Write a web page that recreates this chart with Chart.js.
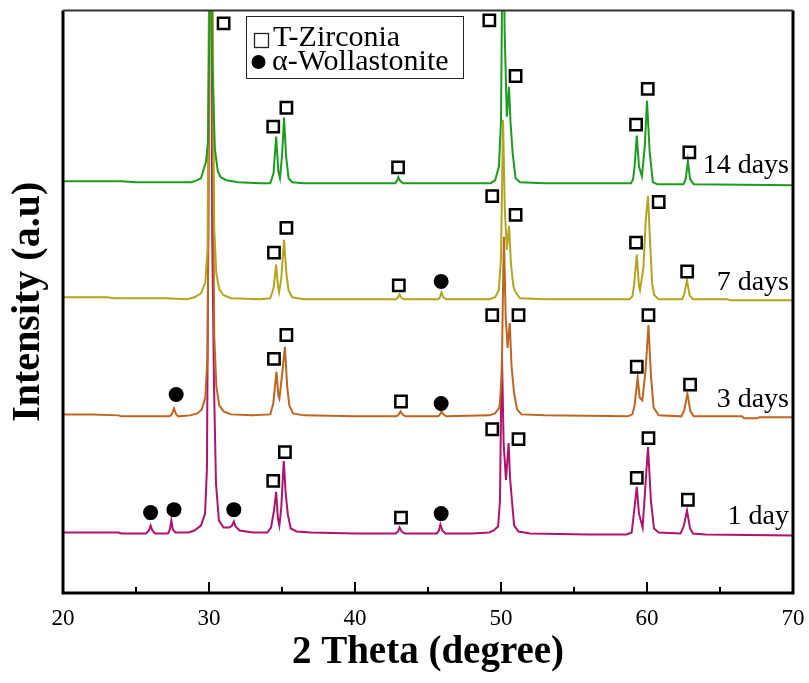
<!DOCTYPE html>
<html>
<head>
<meta charset="utf-8">
<script src="https://cdn.jsdelivr.net/npm/chart.js@4.4.1/dist/chart.umd.min.js"></script>
<style>
html, body { margin: 0; padding: 0; background: #fff; }
#wrap { width: 809px; height: 683px; }
</style>
</head>
<body>
<div id="wrap"><canvas id="xrd-chart"></canvas></div>
<script>
// 2 theta vs relative intensity; each trace is lifted by its offset
var seriesLabels = ['1 day', '3 days', '7 days', '14 days'];
var seriesColors = ['#b0136b', '#c0651f', '#b3a51e', '#1c9c1c'];
var offsets = [61, 179, 297, 415];

var day1 = [[20, 0], [21.5, 0], [23.8, 0], [24, -1], [25.7, -1], [25.88, 2], [26.0, 7], [26.12, 2], [26.3, -1],
    [27.2, -1], [27.32, 3], [27.42, 12], [27.52, 3], [27.7, 0], [28.6, 0], [29.0, 2], [29.45, 7], [29.73, 19],
    [29.86, 65], [29.95, 300], [30.08, 900], [30.22, 300], [30.34, 150], [30.48, 49], [30.68, 12], [31.0, 5],
    [31.4, 5], [31.58, 7], [31.7, 11], [31.82, 6], [32.1, 2], [33.0, 0], [34.0, 0], [34.25, 5], [34.45, 22],
    [34.6, 41], [34.72, 14], [34.82, 7], [34.95, 25], [35.12, 72], [35.25, 40], [35.4, 18], [35.6, 4], [36.0, 1],
    [37.0, 0], [40.0, -1], [42.8, -1], [42.95, 1], [43.05, 5], [43.2, 1], [43.4, -1], [45.6, -1], [45.75, 2],
    [45.85, 8], [45.98, 2], [46.2, -1], [48.0, -1], [49.2, 0], [49.5, 2], [49.8, 6], [49.93, 32], [50.0, 120],
    [50.07, 176], [50.18, 90], [50.34, 53], [50.52, 90], [50.62, 55], [50.75, 32], [50.9, 7], [51.2, 1],
    [52.0, -1], [56.0, -2], [58.6, -2], [58.95, 0], [59.1, 19], [59.3, 46], [59.45, 19], [59.7, 5], [59.9, 49],
    [60.07, 86], [60.27, 32], [60.48, 4], [60.8, 0], [62.3, -1], [62.53, 7], [62.74, 22], [62.95, 4], [63.15, -1],
    [64.0, -2], [70, -3]];

var day3 = [[20, 1], [22, 1], [23.8, 0], [24, -1], [27.3, -1], [27.45, 1], [27.6, 7], [27.75, 1], [27.9, -1],
    [28.7, 0], [29.2, 2], [29.5, 6], [29.75, 18], [29.9, 60], [30.0, 300], [30.12, 900], [30.25, 300], [30.36, 80],
    [30.5, 30], [30.7, 10], [31.0, 4], [31.5, 1], [33.0, 0], [34.2, 1], [34.4, 12], [34.62, 44], [34.75, 20],
    [34.82, 17], [35.0, 40], [35.2, 69], [35.35, 30], [35.5, 10], [35.75, 2], [36.5, 0], [40.0, -1], [42.85, -1],
    [43.0, 1], [43.12, 4], [43.25, 1], [43.45, -1], [45.7, -1], [45.83, 1], [45.92, 4], [46.05, 1], [46.25, -1],
    [49.2, 0], [49.6, 2], [49.9, 8], [50.05, 40], [50.13, 120], [50.2, 180], [50.32, 100], [50.45, 68],
    [50.6, 93], [50.72, 50], [50.9, 22], [51.1, 6], [51.4, 1], [53.0, 0], [58.7, -1], [59.0, 1], [59.15, 10],
    [59.36, 38], [59.5, 18], [59.68, 15], [59.9, 45], [60.1, 91], [60.27, 40], [60.45, 8], [60.8, 0], [62.35, -1],
    [62.55, 5], [62.77, 22], [62.97, 4], [63.2, -1], [66.5, -1], [66.65, -3], [67.5, -3], [67.7, -2], [70, -2]];

var day7 = [[20, 1], [23, 1], [23.5, 0], [27, 0], [28.5, -1], [29.0, 1], [29.45, 5], [29.75, 16], [29.9, 50],
    [30.0, 300], [30.12, 800], [30.25, 300], [30.36, 70], [30.5, 25], [30.7, 9], [31.0, 3], [31.5, 0], [33.5, -1],
    [34.2, 0], [34.42, 10], [34.6, 34], [34.72, 12], [34.8, 6], [34.95, 20], [35.14, 59], [35.3, 25], [35.45, 8],
    [35.7, 1], [36.5, -1], [42.8, -1], [42.95, 1], [43.05, 4], [43.2, 0], [43.4, -1], [45.7, -1], [45.82, 1],
    [45.92, 6], [46.05, 1], [46.25, -1], [49.2, -1], [49.6, 1], [49.85, 8], [50.0, 40], [50.08, 120], [50.14, 180],
    [50.26, 90], [50.4, 49], [50.55, 73], [50.68, 35], [50.85, 12], [51.0, 6], [51.3, 0], [53.0, -1], [58.8, -1],
    [59.0, 2], [59.12, 14], [59.3, 44], [59.45, 12], [59.52, 8], [59.75, 30], [59.92, 80], [60.07, 103],
    [60.2, 60], [60.35, 15], [60.5, 3], [60.8, -1], [62.4, -1], [62.55, 4], [62.74, 18], [62.92, 3], [63.15, -1],
    [65.5, -1], [65.7, -2], [70, -2]];

var day14 = [[20, 0], [24, 0], [25, -1], [28.8, -1], [29.2, 1], [29.45, 3], [29.8, 20], [29.93, 40], [30.0, 123],
    [30.1, 280], [30.22, 123], [30.4, 33], [30.6, 10], [30.8, 4], [31.2, 1], [32.0, -1], [33.5, -2], [34.2, -2],
    [34.42, 8], [34.6, 45], [34.75, 10], [34.86, 3], [35.0, 25], [35.14, 64], [35.28, 25], [35.45, 3], [35.7, -1],
    [36.5, -2], [42.75, -2], [42.9, 1], [42.97, 4], [43.1, 0], [43.3, -2], [49.3, -2], [49.6, 1], [49.86, 15],
    [50.0, 61], [50.07, 180], [50.14, 300], [50.25, 150], [50.4, 65], [50.55, 95], [50.65, 60], [50.8, 28],
    [51.0, 3], [51.3, -1], [53.0, -2], [58.9, -2], [59.05, 2], [59.15, 15], [59.3, 46], [59.45, 15], [59.65, 5],
    [59.85, 35], [60.0, 81], [60.18, 30], [60.4, -1], [60.7, -3], [62.5, -3], [62.65, 2], [62.8, 20], [62.95, 2],
    [63.2, -3], [70, -4]];

var traces = [day1, day3, day7, day14];

// peak markers, same vertical units as the lifted traces
var zirconiaMarks = [[31.0, 574], [34.4, 470], [35.3, 489], [42.95, 429], [49.2, 577], [51.0, 521], [59.25, 472],
    [60.05, 508], [62.9, 444],
    [34.45, 343], [35.3, 368], [43.0, 310], [49.4, 400], [51.0, 381], [59.25, 353], [60.8, 394], [62.75, 324],
    [34.45, 236], [35.3, 260], [43.15, 193], [49.4, 280], [51.2, 280], [59.3, 228], [60.1, 280], [62.95, 210],
    [34.4, 113], [35.2, 142], [43.15, 76], [49.4, 165], [51.2, 155], [59.3, 116], [60.1, 156], [62.8, 94]];
var wollastoniteMarks = [[45.9, 314], [27.75, 200], [45.9, 191], [26.0, 81], [27.6, 84], [31.7, 84], [45.9, 80]];
var legendLabels = ['T-Zirconia', '\u03b1-Wollastonite'];

var xTicks = [20, 30, 40, 50, 60, 70];

function toPoints(arr, lift) {
    return arr.map(function(p) { return { x: p[0], y: p[1] + (lift || 0) }; });
}

var datasets = [];
datasets.push({
    type: 'scatter', label: legendLabels[0], data: toPoints(zirconiaMarks), order: 0,
    pointStyle: 'rect', pointRadius: 8, pointBorderWidth: 2.5, pointBorderColor: '#000',
    pointBackgroundColor: 'rgba(0,0,0,0)', clip: 0
});
datasets.push({
    type: 'scatter', label: legendLabels[1], data: toPoints(wollastoniteMarks), order: 0,
    pointStyle: 'circle', pointRadius: 7.5, pointBorderWidth: 0, pointBackgroundColor: '#000', clip: 0
});
for (var i = traces.length - 1; i >= 0; i--) {
    datasets.push({
        type: 'line', label: seriesLabels[i], data: toPoints(traces[i], offsets[i]),
        borderColor: seriesColors[i], borderWidth: 2, pointRadius: 0, tension: 0,
        fill: false, clip: 0, order: 4 - i
    });
}

var decorPlugin = {
    id: 'decor',
    afterDraw: function(chart) {
        var ctx = chart.ctx, a = chart.chartArea;
        var xs = chart.scales.x, ys = chart.scales.y;
        ctx.save();

        // inward ticks on the bottom axis
        ctx.strokeStyle = '#000';
        ctx.lineWidth = 2;
        for (var v = 25; v < 70; v += 5) {
            var px = Math.round(xs.getPixelForValue(v));
            var len = v % 10 === 0 ? 11 : 6;
            ctx.beginPath();
            ctx.moveTo(px, a.bottom);
            ctx.lineTo(px, a.bottom - len);
            ctx.stroke();
        }

        // frame
        ctx.lineWidth = 3;
        ctx.beginPath();
        ctx.moveTo(a.left, a.top);
        ctx.lineTo(a.left, a.bottom);
        ctx.lineTo(a.right, a.bottom);
        ctx.lineTo(a.right, a.top);
        ctx.stroke();
        ctx.lineWidth = 2;
        ctx.strokeStyle = '#333';
        ctx.beginPath();
        ctx.moveTo(a.left, a.top);
        ctx.lineTo(a.right, a.top);
        ctx.stroke();

        // legend box
        ctx.strokeStyle = '#222';
        ctx.lineWidth = 1;
        ctx.strokeRect(246.5, 16.5, 217, 62);
        ctx.lineWidth = 1.3;
        ctx.strokeRect(254.5, 33.5, 14, 14);
        ctx.fillStyle = '#000';
        ctx.beginPath();
        ctx.arc(258.5, 62, 7, 0, Math.PI * 2);
        ctx.fill();
        ctx.font = '30px "Liberation Serif", "Times New Roman", serif';
        ctx.textAlign = 'left';
        ctx.textBaseline = 'alphabetic';
        ctx.fillText(legendLabels[0], 273, 46);
        ctx.fillText(legendLabels[1], 272, 70);

        // sample labels at the right end of each trace
        ctx.font = '28px "Liberation Serif", "Times New Roman", serif';
        ctx.textAlign = 'right';
        for (var k = 0; k < seriesLabels.length; k++) {
            ctx.fillText(seriesLabels[k], 789, ys.getPixelForValue(offsets[k]) - 8);
        }
        ctx.restore();
    }
};

new Chart(document.getElementById('xrd-chart'), {
    type: 'line',
    data: { datasets: datasets },
    plugins: [decorPlugin],
    options: {
        responsive: true,
        maintainAspectRatio: false,
        animation: false,
        layout: { padding: { top: 6, right: 16, left: 0, bottom: 0 } },
        plugins: { legend: { display: false }, tooltip: { enabled: false } },
        scales: {
            x: {
                type: 'linear', min: 20, max: 70,
                afterFit: function(scale) {
                    scale.height = 90;
                    scale.paddingLeft = 0;
                    scale.paddingRight = 0;
                },
                afterBuildTicks: function(scale) {
                    scale.ticks = xTicks.map(function(v) { return { value: v }; });
                },
                grid: { display: false, drawTicks: false },
                border: { display: false },
                ticks: {
                    padding: 12, color: '#000', maxRotation: 0,
                    font: { family: '"Liberation Serif", "Times New Roman", serif', size: 23 }
                },
                title: {
                    display: true, text: '2 Theta (degree)', color: '#000',
                    padding: { top: 0, bottom: 7 },
                    font: { family: '"Liberation Serif", "Times New Roman", serif', size: 39, weight: 'bold' }
                }
            },
            y: {
                type: 'linear', min: 0, max: 587,
                afterFit: function(scale) { scale.width = 63; },
                grid: { display: false, drawTicks: false },
                border: { display: false },
                ticks: { display: false },
                title: {
                    display: true, text: 'Intensity (a.u)', color: '#000',
                    padding: { top: 5, bottom: 0 },
                    font: { family: '"Liberation Serif", "Times New Roman", serif', size: 40, weight: 'bold' }
                }
            }
        }
    }
});
</script>
</body>
</html>
